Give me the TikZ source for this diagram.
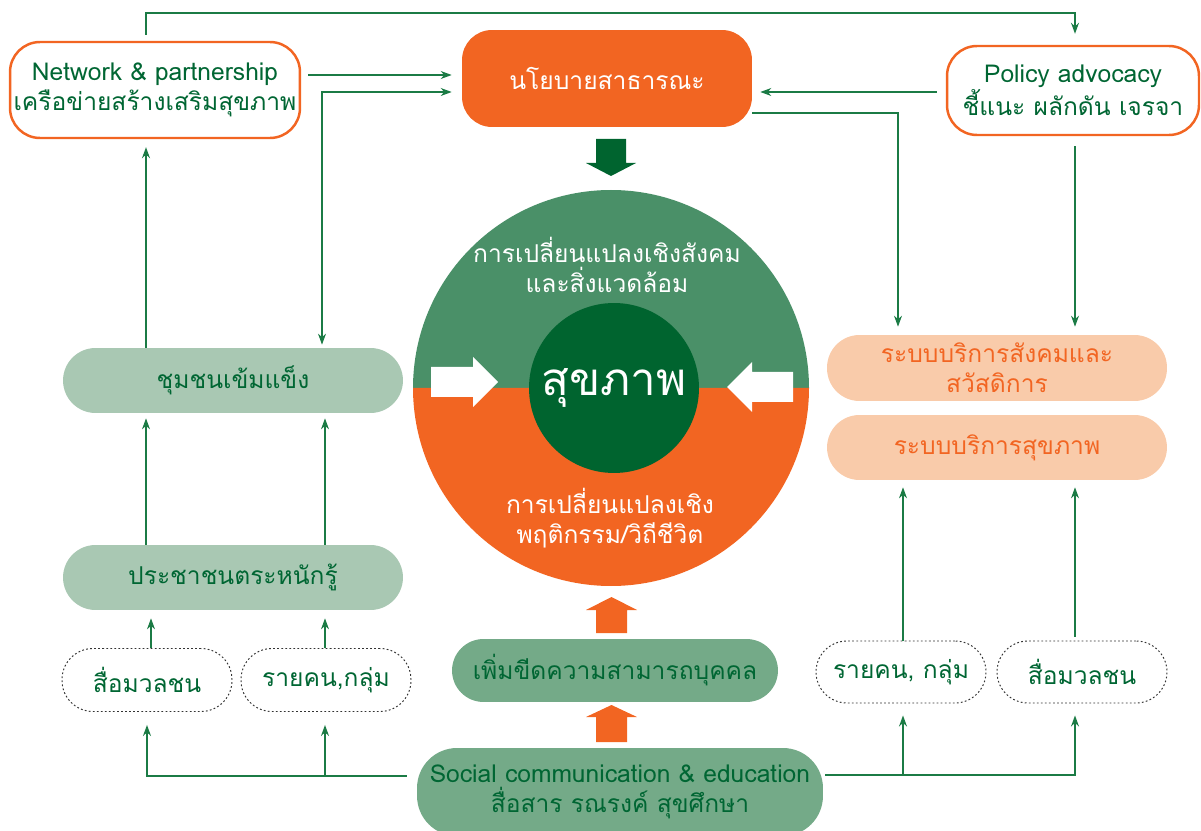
\documentclass[tikz,border=0pt]{standalone}
\usepackage{fontspec}
\setmainfont{Loma}[Script=Thai]
\usetikzlibrary{arrows.meta}

\definecolor{txtgreen}{HTML}{006633}
\definecolor{linegreen}{HTML}{1B7B45}
\definecolor{darkgreen}{HTML}{00642F}
\definecolor{midgreen}{HTML}{4A9068}
\definecolor{softgreen}{HTML}{74AA88}
\definecolor{palegreen}{HTML}{A9C8B3}
\definecolor{healthorange}{HTML}{F26522}
\definecolor{peach}{HTML}{F9CBAA}

\tikzset{
  every node/.style={inner sep=0pt, align=center, font=\fontsize{14}{17}\selectfont},
  outlined/.style={draw=healthorange, line width=1.4pt, fill=white, rounded corners=0.6cm, text=txtgreen},
  policybox/.style={fill=healthorange, rounded corners=0.6cm, text=white},
  pale/.style={fill=palegreen, rounded corners=0.65cm, text=txtgreen, minimum width=6.8cm, minimum height=1.3cm},
  peachy/.style={fill=peach, rounded corners=0.65cm, text=healthorange, minimum width=6.8cm, minimum height=1.3cm},
  solidgreen/.style={fill=softgreen, text=txtgreen},
  dotbox/.style={draw=black!80, line width=0.55pt, dash pattern=on 1pt off 1.3pt, rounded corners=0.62cm, text=txtgreen, minimum width=3.4cm, minimum height=1.26cm},
  link/.style={draw=linegreen, line width=0.7pt, -{Stealth[length=0.22cm, width=0.16cm]}}
}

\begin{document}
\begin{tikzpicture}[x=0.02cm, y=-0.02cm]
\useasboundingbox (0,0) rectangle (1201,831);

% top row
\node[outlined, minimum width=5.8cm, minimum height=1.92cm] (network) at (155,90) {Network \& partnership\\เครือข่ายสร้างเสริมสุขภาพ};
\node[policybox, minimum width=5.8cm, minimum height=1.94cm] (policy) at (607,78.5) {นโยบายสาธารณะ};
\node[outlined, minimum width=5.04cm, minimum height=1.78cm] (advocacy) at (1073,90.5) {Policy advocacy\\ชี้แนะ ผลักดัน เจรจา};

% the wheel
\fill[midgreen] (413,388) arc[start angle=180, end angle=360, radius=198] -- cycle;
\fill[healthorange] (413,388) arc[start angle=180, end angle=0, radius=198] -- cycle;
\node[circle, fill=darkgreen, minimum size=3.4cm, text=white, font=\fontsize{26}{30}\selectfont] (health) at (614,388) {สุขภาพ};
\node[text=white] (social change) at (607,265) {การเปลี่ยนแปลงเชิงสังคม\\และสิ่งแวดล้อม};
\node[text=white] (behaviour) at (610,518) {การเปลี่ยนแปลงเชิง\\พฤติกรรม/วิถีชีวิต};
\fill[white] (431,367) -- (473,367) -- (473,357) -- (498,382) -- (473,407) -- (473,397) -- (431,397) -- cycle;
\fill[white] (793,372) -- (752,372) -- (752,362) -- (727,387) -- (752,412) -- (752,402) -- (793,402) -- cycle;
\fill[darkgreen] (596,139) -- (626,139) -- (626,163) -- (636,163) -- (611,176) -- (586,163) -- (596,163) -- cycle;

% left column
\node[pale] (community) at (233,380.5) {ชุมชนเข้มแข็ง};
\node[pale] (aware) at (233,577.5) {ประชาชนตระหนักรู้};
\node[dotbox] (mediaL) at (147,680) {สื่อมวลชน};
\node[dotbox] (groupL) at (326,680) {รายคน,กลุ่ม};

% right column
\node[peachy, minimum height=1.32cm] (welfare) at (997,368) {ระบบบริการสังคมและ\\สวัสดิการ};
\node[peachy] (service) at (997,447.5) {ระบบบริการสุขภาพ};
\node[dotbox, minimum height=1.24cm] (groupR) at (901,672) {รายคน, กลุ่ม};
\node[dotbox, minimum height=1.24cm] (mediaR) at (1082,672) {สื่อมวลชน};

% bottom centre
\node[solidgreen, rounded corners=0.63cm, minimum width=6.52cm, minimum height=1.26cm] (capacity) at (615,670.5) {เพิ่มขีดความสามารถบุคคล};
\node[solidgreen, rounded corners=0.8cm, minimum width=8.12cm, minimum height=1.76cm] (communication) at (620,792) {Social communication \& education\\สื่อสาร รณรงค์ สุขศึกษา};
\fill[healthorange] (596,633) -- (596,610) -- (586,610) -- (611.5,597) -- (637,610) -- (627,610) -- (627,633) -- cycle;
\fill[healthorange] (596,742) -- (596,717) -- (586,717) -- (611.5,705) -- (637,717) -- (627,717) -- (627,742) -- cycle;

% lanes
\coordinate (laneA) at (146,13);
\coordinate (laneE) at (1075,13);
\coordinate (laneB) at (325,0);
\coordinate (laneM) at (151,0);
\coordinate (bendL) at (322,92);
\coordinate (bendR) at (898,113);
\coordinate (botL) at (147,776);
\coordinate (botR) at (1075,775);

% connectors
\draw[link, shorten <=0.12cm, shorten >=0.22cm] (network.north -| laneA) -- (laneA) -- (laneE) -- (advocacy.north -| laneE);
\draw[link, shorten <=0.14cm, shorten >=0.2cm] ([yshift=0.3cm]network.east) -- ([yshift=0.3cm]network.east -| policy.west);
\draw[link, {Stealth[length=0.22cm, width=0.16cm]}-{Stealth[length=0.22cm, width=0.16cm]}, shorten <=0.06cm, shorten >=0.2cm] (community.north -| bendL) -- (bendL) -- (bendL -| policy.west);
\draw[link, shorten >=0.16cm] (community.north -| laneA) -- (network.south -| laneA);
\draw[link, shorten >=0.1cm] (aware.north -| laneA) -- (community.south -| laneA);
\draw[link, shorten >=0.1cm] (aware.north -| laneB) -- (community.south -| laneB);
\draw[link, shorten >=0.16cm] (mediaL.north -| laneM) -- (aware.south -| laneM);
\draw[link, shorten >=0.16cm] (groupL.north -| laneB) -- (aware.south -| laneB);
\draw[link, shorten <=0.2cm, shorten >=0.26cm] (communication.west |- botL) -- (botL) -- (mediaL.south -| botL);
\draw[link, shorten >=0.26cm] (laneB |- botL) -- (groupL.south -| laneB);
\draw[link, shorten <=0.18cm, shorten >=0.16cm] ([yshift=-0.03cm]advocacy.west) -- ([yshift=-0.03cm]advocacy.west -| policy.east);
\draw[link, shorten >=0.16cm] (policy.east |- bendR) -- (bendR) -- (welfare.north -| bendR);
\draw[link, shorten <=0.2cm, shorten >=0.16cm] (advocacy.south -| laneE) -- (welfare.north -| laneE);
\draw[link, shorten >=0.14cm] ([xshift=0.04cm]groupR.north) -- ([xshift=0.04cm]groupR.north |- service.south);
\draw[link, shorten <=0.08cm, shorten >=0.14cm] (mediaR.north -| laneE) -- (service.south -| laneE);
\draw[link, shorten <=0.04cm, shorten >=0.24cm] (communication.east |- botR) -- (botR) -- (mediaR.south -| botR);
\draw[link, shorten >=0.24cm] ([xshift=0.04cm]groupR.south |- botR) -- ([xshift=0.04cm]groupR.south);
\end{tikzpicture}
\end{document}
